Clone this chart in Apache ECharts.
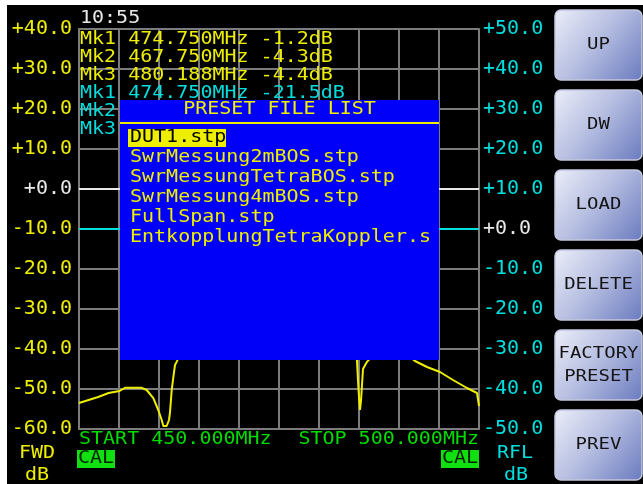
<!DOCTYPE html>
<html>
<head>
<meta charset="utf-8">
<script src="https://cdn.jsdelivr.net/npm/echarts@6/dist/echarts.min.js"></script>
<style>
  html, body { margin: 0; padding: 0; background: #fff; }
  #c { width: 643px; height: 484px; }
</style>
</head>
<body>
<div id="c"></div>
<script>
// Sweep range and axis scales
const FREQ_START = 450.0;
const FREQ_STOP = 500.0;
const FREQ_STEP = 5;
const FWD_MIN = -60, FWD_MAX = 40, FWD_STEP = 10;
const RFL_MIN = -50, RFL_MAX = 50, RFL_STEP = 10;

// Forward (transmission) trace, MHz / dB
const fwdFreq = [450.0, 451.2, 452.4, 453.7, 455.06, 455.75, 457.84, 458.46, 459.29, 459.91,
  460.34, 460.54, 460.96, 461.25, 461.38, 461.59, 461.79, 462.0, 462.29, 463.0,
  464.0, 465.0, 466.0, 467.0, 467.75, 469.0, 471.0, 473.0, 474.75, 476.5,
  478.5, 480.188, 481.5, 482.5, 483.5, 484.3, 484.6, 484.75, 484.875, 485.0,
  485.125, 485.25, 485.375, 485.5, 485.75, 486.0, 486.25, 487.0, 488.5, 490.0,
  491.0, 492.0, 493.5, 495.125, 496.75, 498.5, 499.75, 500.0];
const fwdDb = [-53.5, -52.75, -52.0, -51.0, -50.5, -49.7, -49.7, -50.25, -52.3, -55.25,
  -57.75, -59.25, -59.25, -57.75, -55.7, -50.25, -47.1, -44.0, -42.9, -30.0,
  -18.0, -10.0, -6.5, -5.0, -4.3, -3.0, -2.0, -1.5, -1.2, -1.8,
  -3.0, -4.4, -7.0, -12.0, -22.0, -35.0, -41.0, -43.0, -48.0, -52.0,
  -55.25, -53.0, -52.75, -45.0, -44.75, -43.2, -42.8, -41.0, -40.0, -40.5,
  -41.5, -43.0, -44.5, -45.75, -47.75, -49.75, -51.0, -54.25];

// Reflection trace, MHz / dB
const rflFreq = [450.0, 455.0, 460.0, 462.0, 463.0, 465.0, 467.75, 470.0, 472.5, 474.75,
  477.0, 480.188, 482.0, 484.0, 486.0, 488.0, 495.0, 500.0];
const rflDb = [0.0, 0.0, 0.0, 0.0, -0.5, -5.0, -12.0, -16.0, -19.0, -21.5,
  -18.0, -13.0, -6.0, -1.0, -0.2, 0.0, 0.0, 0.0];

// Marker readouts
const markerNames = ['Mk1', 'Mk2', 'Mk3'];
const markerFreqs = [474.750, 467.750, 480.188];

// Preset file dialog
const presetTitle = 'PRESET FILE LIST';
const presetFiles = ['DUT1.stp', 'SwrMessung2mBOS.stp', 'SwrMessungTetraBOS.stp',
  'SwrMessung4mBOS.stp', 'FullSpan.stp', 'EntkopplungTetraKoppler.s'];
const selectedFile = 0;

// Soft keys
const buttonLabels = ['UP', 'DW', 'LOAD', 'DELETE', 'FACTORY\nPRESET', 'PREV'];

const clockText = '10:55';

// Colours and fonts
const YELLOW = '#eeee00';
const CYAN = '#00dede';
const WHITE = '#e8e8e8';
const GREEN = '#00dc00';
const GRAY = '#7c7c7c';
const BLUE = '#0000fa';
const MONO = '"DejaVu Sans Mono", "Liberation Mono", monospace';
const FONT = '20px ' + MONO;
const TEXT_SQUASH = 0.86;   // the LCD font is a little flatter than the TTF one

const GRID = { left: 79, top: 29, width: 400, height: 400 };

const pairs = (xs, ys) => xs.map((x, i) => [x, ys[i]]);
const valueAt = (xs, ys, f) => ys[xs.indexOf(f)];
const dbLabel = v => (v >= 0 ? '+' : '') + v.toFixed(1);

const chart = echarts.init(document.getElementById('c'), null, { renderer: 'canvas' });

const graphics = [];
const Z_TEXT = 100, Z_POPUP = 120;

// white frame strips along the top and left edges
graphics.push({ type: 'rect', z: 200, shape: { x: 0, y: 0, width: 643, height: 5 }, style: { fill: '#ffffff' } });
graphics.push({ type: 'rect', z: 200, shape: { x: 0, y: 0, width: 7, height: 484 }, style: { fill: '#ffffff' } });

function text(x, y, str, fill, align, z) {
  return {
    type: 'text', z: z || Z_TEXT, x: x, y: y, scaleY: TEXT_SQUASH,
    style: { text: str, fill: fill, font: FONT, align: align || 'left', verticalAlign: 'middle' }
  };
}

// clock
graphics.push(text(80, 19, clockText, WHITE));

// marker table: FWD rows then RFL rows
const rowY = [40, 58, 76, 94, 112, 130];
markerNames.forEach((name, i) => {
  const f = markerFreqs[i];
  const v = valueAt(fwdFreq, fwdDb, f);
  graphics.push(text(80, rowY[i], name + ' ' + f.toFixed(3) + 'MHz ' + v.toFixed(1) + 'dB', YELLOW));
});
markerNames.forEach((name, i) => {
  const f = markerFreqs[i];
  const v = valueAt(rflFreq, rflDb, f);
  graphics.push(text(80, rowY[3 + i], name + ' ' + f.toFixed(3) + 'MHz ' + v.toFixed(1) + 'dB', CYAN));
});

// sweep limits under the grid
graphics.push(text(79, 440, 'START ' + FREQ_START.toFixed(3) + 'MHz', GREEN));
graphics.push(text(479, 440, 'STOP ' + FREQ_STOP.toFixed(3) + 'MHz', GREEN, 'right'));

// CAL flags
[[77, 450], [441, 450]].forEach(p => {
  graphics.push({ type: 'rect', z: Z_TEXT, shape: { x: p[0], y: p[1], width: 38, height: 18 }, style: { fill: '#10e010' } });
  graphics.push(text(p[0] + 19, p[1] + 9, 'CAL', '#002000', 'center', Z_TEXT + 1));
});

// axis captions
graphics.push(text(37, 454, 'FWD', YELLOW, 'center'));
graphics.push(text(37, 476, 'dB', YELLOW, 'center'));
graphics.push(text(515, 454, 'RFL', CYAN, 'center'));
graphics.push(text(516, 476, 'dB', CYAN, 'center'));

// preset file dialog
const POP = { x: 120, y: 100, w: 319, h: 260 };
graphics.push({ type: 'rect', z: Z_POPUP, shape: { x: POP.x, y: POP.y, width: POP.w, height: POP.h }, style: { fill: BLUE } });
graphics.push(text(POP.x + POP.w / 2, 110, presetTitle, YELLOW, 'center', Z_POPUP + 1));
graphics.push({ type: 'rect', z: Z_POPUP + 1, shape: { x: POP.x, y: 122, width: POP.w, height: 2 }, style: { fill: YELLOW } });
presetFiles.forEach((name, i) => {
  const y = 138 + i * 20;
  if (i === selectedFile) {
    graphics.push({ type: 'rect', z: Z_POPUP + 1, shape: { x: 128, y: y - 9, width: 98, height: 18 }, style: { fill: YELLOW } });
  }
  graphics.push(text(130, y, name, i === selectedFile ? '#000000' : YELLOW, 'left', Z_POPUP + 2));
});

// soft keys
buttonLabels.forEach((label, i) => {
  const y = 10 + i * 80;
  graphics.push({
    type: 'rect', z: Z_TEXT,
    shape: { x: 555, y: y, width: 87, height: 70, r: 6 },
    style: {
      fill: new echarts.graphic.LinearGradient(0, 0, 1, 1, [
        { offset: 0, color: '#eceef8' },
        { offset: 0.45, color: '#b8c0e2' },
        { offset: 1, color: '#6a7abf' }
      ]),
      stroke: '#c4c8de', lineWidth: 1.5
    }
  });
  graphics.push({ type: 'text', z: Z_TEXT + 1, x: 598.5, y: y + 35, scaleY: TEXT_SQUASH,
    style: { text: label, fill: '#151515', font: '19px ' + MONO, align: 'center', verticalAlign: 'middle', lineHeight: 27 } });
});

const axisLine = { show: true, onZero: false, lineStyle: { color: GRAY, width: 2 } };
const splitLine = { show: true, lineStyle: { color: GRAY, width: 2 } };

const option = {
  backgroundColor: '#000000',
  animation: false,
  grid: { left: GRID.left, top: GRID.top, width: GRID.width, height: GRID.height },
  xAxis: {
    type: 'value', min: FREQ_START, max: FREQ_STOP, interval: FREQ_STEP,
    axisLine: axisLine, axisTick: { show: false }, axisLabel: { show: false }, splitLine: splitLine
  },
  yAxis: [
    {
      type: 'value', position: 'left', min: FWD_MIN, max: FWD_MAX, interval: FWD_STEP,
      axisLine: axisLine, axisTick: { show: false }, splitLine: splitLine,
      axisLabel: {
        margin: 7, fontFamily: MONO, fontSize: 20,
        formatter: dbLabel,
        color: v => (Number(v) === 0 ? WHITE : YELLOW)
      }
    },
    {
      type: 'value', position: 'right', min: RFL_MIN, max: RFL_MAX, interval: RFL_STEP,
      axisLine: axisLine, axisTick: { show: false }, splitLine: { show: false },
      axisLabel: {
        margin: 4, fontFamily: MONO, fontSize: 20,
        formatter: dbLabel,
        color: v => (Number(v) === 0 ? WHITE : CYAN)
      }
    }
  ],
  series: [
    {
      name: 'RFL', type: 'line', yAxisIndex: 1, data: pairs(rflFreq, rflDb),
      showSymbol: false, lineStyle: { color: CYAN, width: 2 }, z: 3
    },
    {
      name: 'FWD', type: 'line', yAxisIndex: 0, data: pairs(fwdFreq, fwdDb),
      showSymbol: false, lineStyle: { color: YELLOW, width: 2 }, z: 4,
      markLine: {
        silent: true, symbol: 'none', label: { show: false },
        lineStyle: { color: WHITE, width: 2, type: 'solid' },
        data: [{ yAxis: 0 }]
      }
    }
  ],
  graphic: graphics
};

chart.setOption(option);
</script>
</body>
</html>
